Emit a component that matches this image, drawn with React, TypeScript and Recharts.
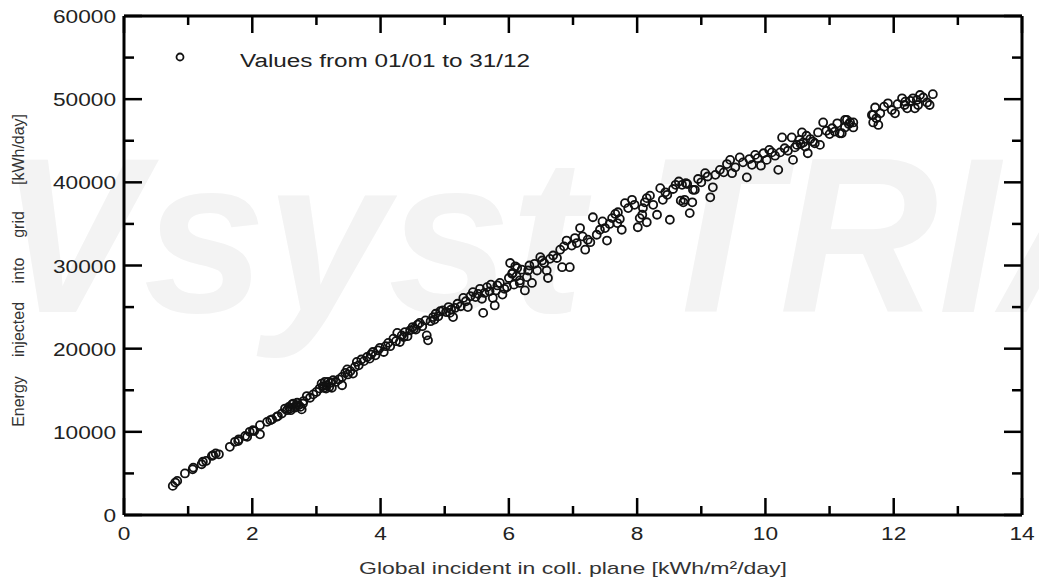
import { ScatterChart, Scatter, XAxis, YAxis, Legend, ReferenceLine } from 'recharts';

// Global incident in coll. plane [kWh/m2/day] vs energy injected [kWh/day]
const lowX = [
  0.76, 0.8, 0.83, 0.95, 1.07, 1.08, 1.21, 1.23, 1.28, 1.37, 1.39, 1.43, 1.48, 1.65, 1.73, 1.78, 1.79, 1.89, 1.92,
  1.96, 2.01, 2.03, 2.12, 2.12, 2.23, 2.28, 2.31, 2.38, 2.4, 2.46, 2.51, 2.54, 2.57, 2.59, 2.62, 2.64, 2.66, 2.7,
  2.72, 2.75, 2.79, 2.8, 2.85, 2.9, 2.95, 3.0, 3.05, 3.08, 3.1, 3.13, 3.16, 3.18, 3.2, 3.24, 3.26, 3.3, 3.35, 3.4,
  3.4, 3.45, 3.48, 3.49, 3.53, 3.57, 3.6, 3.63, 3.66, 3.7, 3.74, 3.79, 3.83, 3.85, 3.88, 3.92, 3.96, 3.99,
  2.6, 2.68, 2.77, 3.12, 3.22, 3.15,
];
const lowY = [
  3500, 3900, 4100, 5000, 5500, 5700, 6100, 6400, 6500, 7100, 7200, 7400, 7300, 8200, 8800, 8900, 9100, 9500, 9400,
  10000, 10200, 10100, 9700, 10800, 11200, 11400, 11500, 11800, 11900, 12200, 12800, 12600, 13000, 12800, 13300,
  13400, 12900, 13500, 13200, 13000, 13400, 13700, 14300, 14100, 14500, 14800, 15200, 15800, 15500, 16000, 15600,
  16000, 15400, 15300, 16200, 16000, 16300, 15600, 16600, 17100, 17500, 16900, 17300, 17000, 17800, 18400, 18000,
  18700, 18500, 19000, 18800, 19300, 19600, 19200, 19800, 20100,
  12600, 13100, 12700, 15300, 15900, 15200,
];

const midX = [
  4.05, 4.08, 4.12, 4.15, 4.2, 4.24, 4.26, 4.3, 4.33, 4.38, 4.42, 4.46, 4.5, 4.55, 4.58, 4.61, 4.65, 4.7, 4.72, 4.74,
  4.78, 4.82, 4.86, 4.9, 4.93, 4.97, 5.02, 5.06, 5.1, 5.13, 5.16, 5.2, 5.25, 5.29, 5.33, 5.36, 5.4, 5.44, 5.48, 5.52,
  5.55, 5.6, 5.62, 5.66, 5.7, 5.72, 5.75, 5.78, 5.82, 5.86, 5.9, 5.93, 5.97, 6.0, 6.02, 6.05, 6.06, 6.08, 6.1, 6.13,
  6.17, 6.17, 6.2, 6.25, 6.28, 6.32, 6.36, 6.4, 6.44, 6.49, 6.52, 6.55, 6.59, 6.61, 6.64, 6.69, 6.75, 6.8, 6.83,
  6.86, 6.9, 6.95, 6.98,
  4.36, 4.52, 4.84, 5.08, 5.58, 5.8, 6.12, 6.3,
];
const midY = [
  19600, 20300, 20700, 20300, 21200, 20900, 21900, 20800, 21600, 22000, 21500, 22200, 22600, 22300, 22900, 23100,
  22700, 23400, 21600, 21000, 23300, 23800, 24200, 23900, 24500, 24600, 24400, 25000, 24700, 23800, 24900, 25400,
  25100, 26100, 25700, 25000, 26300, 26800, 26200, 26600, 27200, 24300, 26700, 27400, 26900, 27700, 26100, 25200,
  27600, 27900, 26500, 27200, 27400, 28500, 30300, 29000, 29100, 27700, 29900, 29700, 28200, 27900, 29500, 27000,
  28600, 30000, 27900, 30200, 29400, 31000, 30600, 30300, 29400, 28500, 30800, 31200, 30900, 31900, 29800, 32300,
  33000, 29800, 32400,
  21400, 22400, 23500, 24300, 26000, 27000, 28700, 29400,
];

const highX = [
  7.03, 7.06, 7.11, 7.15, 7.19, 7.23, 7.27, 7.31, 7.37, 7.42, 7.46, 7.5, 7.53, 7.57, 7.61, 7.66, 7.69, 7.7, 7.73,
  7.76, 7.81, 7.86, 7.92, 7.96, 8.01, 8.04, 8.08, 8.09, 8.12, 8.15, 8.15, 8.2, 8.25, 8.31, 8.36, 8.4, 8.44, 8.47,
  8.51, 8.56, 8.6, 8.65, 8.7, 8.72, 8.74, 8.78, 8.82, 8.86, 8.87, 8.9, 8.95, 9.0, 9.06, 9.1, 9.14, 9.18, 9.22, 9.29,
  9.35, 9.4, 9.45, 9.48, 9.53, 9.6, 9.65, 9.71, 9.75, 9.79, 9.84, 9.88, 9.93, 9.97, 10.02, 10.06, 10.1, 10.15, 10.2,
  10.23, 10.26, 10.3, 10.35, 10.41, 10.43, 10.46, 10.49, 10.53, 10.57, 10.59, 10.62, 10.66, 10.7, 10.74, 10.77,
  10.82, 10.85, 10.9, 10.95, 11.0, 11.04, 11.08, 11.12, 11.16, 11.19, 11.24, 11.24, 11.27, 11.32, 11.37, 11.37,
  11.66, 11.68, 11.68, 11.71, 11.73, 11.76, 11.79, 11.85, 11.91, 11.97, 12.02, 12.06, 12.13, 12.17, 12.21, 12.26,
  12.3, 12.33, 12.38, 12.41, 12.46, 12.52, 12.56, 12.61,
  8.68, 8.76, 10.55, 10.64, 11.3, 12.18, 12.36,
];
const highY = [
  33300, 32700, 34500, 33500, 31900, 33100, 32800, 35800, 33700, 34300, 35300, 34500, 33000, 35000, 35700, 36200,
  35100, 36400, 35600, 34300, 37500, 36900, 37900, 37300, 34600, 35700, 36100, 36900, 37600, 38100, 35200, 38400,
  37300, 36100, 39300, 37900, 38800, 38500, 35500, 39200, 39700, 40100, 39700, 37600, 37900, 39800, 36300, 37600,
  39100, 39100, 40400, 40000, 41100, 40700, 38200, 39400, 40900, 41500, 41200, 42200, 42700, 41100, 41800, 43000,
  42400, 40600, 42800, 42100, 43300, 42900, 42000, 43500, 42700, 43900, 43600, 43200, 41500, 43600, 45400, 44100,
  43800, 45400, 42700, 44200, 44500, 45100, 46000, 44800, 44300, 43500, 45200, 44900, 44700, 46000, 44500, 47200,
  46200, 45800, 46500, 46100, 47100, 45900, 45900, 46600, 47500, 47500, 47200, 46600, 47200, 48100, 47200, 48100,
  49000, 47700, 46900, 48300, 49100, 49500, 48700, 48300, 49400, 50100, 49300, 48900, 49800, 50100, 48900, 49300,
  50500, 50200, 49600, 49300, 50600,
  37800, 39900, 44600, 45600, 47000, 49700, 49900,
];

const xTicks = [0, 1, 2, 3, 4, 5, 6, 7, 8, 9, 10, 11, 12, 13, 14];
const yTicks = [0, 5000, 10000, 15000, 20000, 25000, 30000, 35000, 40000, 45000, 50000, 55000, 60000];

const FONT = '"Liberation Sans", Arial, sans-serif';
const INK = '#000';
const LABEL = '#222';
const DIGIT_W = 12.6;

const points = [
  ...lowX.map((x, i) => ({ x, y: lowY[i] })),
  ...midX.map((x, i) => ({ x, y: midY[i] })),
  ...highX.map((x, i) => ({ x, y: highY[i] })),
];

// tick labels only; the inward tick marks come from ReferenceLine shapes
function BottomLabel(props: any) {
  const { x, y, payload } = props;
  const v = payload.value as number;
  if (v % 2 !== 0) return <g />;
  const s = String(v);
  return (
    <text
      x={x}
      y={y + 19}
      textAnchor="middle"
      fontSize={18}
      fontFamily={FONT}
      fill={LABEL}
      textLength={s.length * DIGIT_W}
      lengthAdjust="spacingAndGlyphs"
    >
      {s}
    </text>
  );
}

function LeftLabel(props: any) {
  const { x, y, payload } = props;
  const v = payload.value as number;
  if (v % 10000 !== 0) return <g />;
  const s = String(v);
  return (
    <text
      x={x}
      y={y + 7}
      textAnchor="end"
      fontSize={18}
      fontFamily={FONT}
      fill={LABEL}
      textLength={s.length * DIGIT_W}
      lengthAdjust="spacingAndGlyphs"
    >
      {s}
    </text>
  );
}

// vertical reference line -> short inward ticks at bottom and top of the frame
function XTickPair(props: any) {
  const { x1, y1, y2, len } = props;
  const top = Math.min(y1, y2);
  const bottom = Math.max(y1, y2);
  return (
    <g>
      <line x1={x1} x2={x1} y1={bottom} y2={bottom - len} stroke={INK} strokeWidth={2.5} />
      <line x1={x1} x2={x1} y1={top} y2={top + len} stroke={INK} strokeWidth={2.5} />
    </g>
  );
}

// horizontal reference line -> short inward ticks at left and right of the frame
function YTickPair(props: any) {
  const { x1, x2, y1, len } = props;
  const left = Math.min(x1, x2);
  const right = Math.max(x1, x2);
  return (
    <g>
      <line x1={left} x2={left + len} y1={y1} y2={y1} stroke={INK} strokeWidth={2.5} />
      <line x1={right} x2={right - len} y1={y1} y2={y1} stroke={INK} strokeWidth={2.5} />
    </g>
  );
}

function RingDot(props: any) {
  const { cx, cy } = props;
  return <circle cx={cx} cy={cy} r={4} fill="none" stroke="#111" strokeWidth={1.8} />;
}

function LegendBox() {
  return (
    <svg width={420} height={30} style={{ display: 'block' }}>
      <circle cx={20} cy={10} r={3.5} fill="none" stroke="#111" strokeWidth={1.8} />
      <text
        x={80}
        y={20}
        fontSize={18}
        fontFamily={FONT}
        fill={LABEL}
        textLength={290}
        lengthAdjust="spacingAndGlyphs"
      >
        Values from 01/01 to 31/12
      </text>
    </svg>
  );
}

function XTitle(props: any) {
  const { viewBox } = props;
  return (
    <text
      x={viewBox.x + viewBox.width / 2}
      y={viewBox.y + 59}
      textAnchor="middle"
      fontSize={17}
      fontFamily={FONT}
      fill="#333"
      textLength={428}
      lengthAdjust="spacingAndGlyphs"
    >
      Global incident in coll. plane [kWh/m²/day]
    </text>
  );
}

// y title words with the wide gaps of the original, offsets from the axis centre
const Y_WORDS = ['Energy', 'injected', 'into', 'grid', '[kWh/day]'];
const Y_WORD_SHIFT = [136, 64, 5, -41, -116];

function YTitle(props: any) {
  const { viewBox } = props;
  const cx = viewBox.x + 10;
  const mid = viewBox.y + viewBox.height / 2;
  return (
    <g>
      {Y_WORDS.map((w, i) => {
        const cy = mid + Y_WORD_SHIFT[i];
        return (
          <text
            key={w}
            x={cx}
            y={cy}
            transform={`rotate(-90, ${cx}, ${cy})`}
            textAnchor="middle"
            fontSize={16}
            fontFamily={FONT}
            fill="#333"
          >
            {w}
          </text>
        );
      })}
    </g>
  );
}

export default function App() {
  return (
    <div style={{ position: 'absolute', left: 0, top: 0, width: 1039, height: 583, background: '#fff' }}>
      <svg width={1039} height={583} style={{ position: 'absolute', left: 0, top: 0 }}>
        <text
          x={-150}
          y={312}
          fontSize={220}
          fontWeight="bold"
          fontStyle="italic"
          fontFamily={FONT}
          fill="#f3f3f3"
        >
          PVsyst TRIAL
        </text>
      </svg>
      <div style={{ position: 'absolute', left: 0, top: 0 }}>
        <ScatterChart width={1039} height={583} margin={{ top: 16, right: 17, bottom: 18, left: 14 }}>
          <XAxis
            type="number"
            dataKey="x"
            domain={[0, 14]}
            ticks={xTicks}
            interval={0}
            height={50}
            tickSize={0}
            tickMargin={6}
            tickLine={false}
            axisLine={{ stroke: INK, strokeWidth: 3 }}
            tick={<BottomLabel />}
            label={<XTitle />}
          />
          <YAxis
            type="number"
            dataKey="y"
            domain={[0, 60000]}
            ticks={yTicks}
            interval={0}
            width={110}
            tickSize={0}
            tickMargin={8}
            tickLine={false}
            axisLine={{ stroke: INK, strokeWidth: 3 }}
            tick={<LeftLabel />}
            label={<YTitle />}
          />
          {xTicks.map((v) => (
            <ReferenceLine
              key={`xt${v}`}
              x={v}
              shape={(p: any) => <XTickPair {...p} len={v % 2 === 0 ? 17 : 9} />}
            />
          ))}
          {yTicks.map((v) => (
            <ReferenceLine
              key={`yt${v}`}
              y={v}
              shape={(p: any) => <YTickPair {...p} len={v % 10000 === 0 ? 18 : 10} />}
            />
          ))}
          <ReferenceLine x={14} stroke={INK} strokeWidth={3} />
          <ReferenceLine y={60000} stroke={INK} strokeWidth={3} />
          <Legend
            layout="horizontal"
            verticalAlign="middle"
            align="center"
            wrapperStyle={{ position: 'absolute', top: 47, left: 160, width: 420, height: 30 }}
            content={() => <LegendBox />}
          />
          <Scatter data={points} shape={<RingDot />} isAnimationActive={false} />
        </ScatterChart>
      </div>
    </div>
  );
}
